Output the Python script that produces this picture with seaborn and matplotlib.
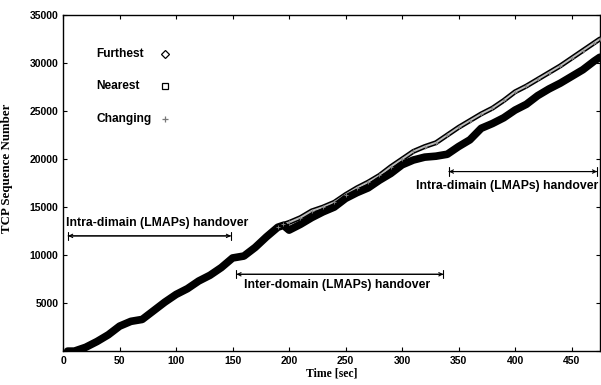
import pandas as pd
import matplotlib
matplotlib.use('Agg')
import matplotlib.pyplot as plt
import seaborn as sns

# values (time in sec, TCP sequence number)
time_nearest = [4, 10, 20, 30, 40, 50, 60, 70, 80, 90, 100, 110, 120, 130, 140, 150, 160, 170, 180,
                190, 195, 200, 210, 220, 230, 240, 250, 260, 270, 280, 290, 300, 310, 320, 330, 340,
                350, 360, 370, 380, 390, 400, 410, 420, 430, 440, 450, 460, 470, 475]
seq_nearest = [0, 0, 400, 1000, 1700, 2600, 3100, 3300, 4200, 5100, 5900, 6500, 7300, 7900, 8700, 9700,
               9900, 10800, 11900, 12900, 13100, 12600, 13200, 13900, 14500, 15000, 15900, 16500, 17000,
               17800, 18500, 19400, 19900, 20200, 20300, 20500, 21300, 22000, 23200, 23700, 24300,
               25100, 25700, 26600, 27300, 27900, 28600, 29300, 30200, 30600]

time_furthest = [190, 195, 200, 210, 220, 230, 240, 250, 260, 270, 280, 290, 300, 310, 320, 330, 340,
                 350, 360, 370, 380, 390, 400, 410, 420, 430, 440, 450, 460, 470, 475]
seq_furthest = [12900, 13200, 13400, 13900, 14600, 15000, 15500, 16300, 17000, 17600, 18300, 19200,
                20000, 20800, 21300, 21700, 22500, 23300, 24000, 24700, 25300, 26100, 27000, 27600,
                28300, 29000, 29700, 30500, 31300, 32100, 32500]

time_changing = time_furthest
seq_changing = [12900, 13200, 13400, 13900, 14600, 15000, 15500, 16300, 17000, 17600, 18300, 19200,
                20000, 20800, 21300, 21700, 22500, 23300, 24000, 24700, 25300, 26100, 27000, 27600,
                28300, 29000, 29700, 30500, 31300, 32100, 32500]

# handover periods: (start, end, arrow height, label)
handovers = [(2, 151, 12000, 'Intra-dimain (LMAPs) handover'),
             (151, 339, 8000, 'Inter-domain (LMAPs) handover'),
             (339, 475, 18700, 'Intra-dimain (LMAPs) handover')]

sns.set_style('ticks')
plt.rcParams['font.family'] = ['Liberation Sans', 'DejaVu Sans']
plt.rcParams['font.weight'] = 'bold'
plt.rcParams['text.color'] = 'black'
plt.rcParams['axes.labelcolor'] = 'black'
plt.rcParams['xtick.color'] = 'black'
plt.rcParams['ytick.color'] = 'black'
plt.rcParams['axes.edgecolor'] = 'black'

df_near = pd.DataFrame({'time': time_nearest, 'seq': seq_nearest})
df_far = pd.DataFrame({'time': time_furthest, 'seq': seq_furthest})
df_chg = pd.DataFrame({'time': time_changing, 'seq': seq_changing})

fig = plt.figure(figsize=(6.01, 3.85), dpi=100)
ax = fig.add_axes([0.105, 0.088, 0.893, 0.873])

# furthest: outlined line with light core
sns.lineplot(data=df_far, x='time', y='seq', ax=ax, color='black', linewidth=3.6, sort=False)
sns.lineplot(data=df_far, x='time', y='seq', ax=ax, color='#bbbbbb', linewidth=1.4, sort=False)
sns.scatterplot(data=df_chg, x='time', y='seq', ax=ax, marker='+', color='#888888', s=12,
                linewidth=0.6, zorder=4)
# nearest: thick black trace
sns.lineplot(data=df_near, x='time', y='seq', ax=ax, color='black', linewidth=5.5, sort=False)

ax.set_xlim(0, 475)
ax.set_ylim(0, 35000)
ax.set_xticks(range(0, 451, 50))
ax.set_yticks(range(0, 35001, 5000))
ax.set_yticklabels([''] + [str(v) for v in range(5000, 35001, 5000)])
ax.tick_params(direction='in', top=True, right=True, length=3, width=0.8, labelsize=7.5)
for lab in ax.get_xticklabels() + ax.get_yticklabels():
    lab.set_fontweight('bold')
for sp in ax.spines.values():
    sp.set_linewidth(1.0)

ax.set_xlabel('Time [sec]', family='Liberation Serif', fontweight='bold', fontsize=8.5, labelpad=1)
ax.set_ylabel('TCP Sequence Number', family='Liberation Serif', fontweight='bold', fontsize=9.3)
ax.yaxis.set_label_coords(-0.093, 0.545)

# legend drawn by hand as in the original
legend_items = [('Furthest', 'D', 4.5), ('Nearest', 's', 5), ('Changing', '+', 5)]
for i, (name, mk, ms) in enumerate(legend_items):
    y = 0.885 - i * 0.097
    ax.text(0.062, y, name, transform=ax.transAxes, fontsize=8.6, fontweight='bold', va='center')
    ax.plot([0.19], [y], transform=ax.transAxes, marker=mk, markersize=ms,
            color='black' if mk != '+' else '#777777',
            markerfacecolor='white', markeredgewidth=0.9, linestyle='none')

# handover arrows and labels
for start, end, yv, label in handovers:
    ax.annotate('', xy=(start, yv), xytext=(end, yv),
                arrowprops=dict(arrowstyle='|-|', lw=0.8, color='black', mutation_scale=3))
    ax.annotate('', xy=(start, yv), xytext=(end, yv),
                arrowprops=dict(arrowstyle='<->', lw=0.8, color='black', mutation_scale=6))

ax.text(3, 13300, handovers[0][3], fontsize=8.8, fontweight='bold', va='center', ha='left')
ax.text(160, 6900, handovers[1][3], fontsize=8.8, fontweight='bold', va='center', ha='left')
ax.text(474, 17200, handovers[2][3], fontsize=8.8, fontweight='bold', va='center', ha='right')

fig.savefig('out.png', dpi=100)
